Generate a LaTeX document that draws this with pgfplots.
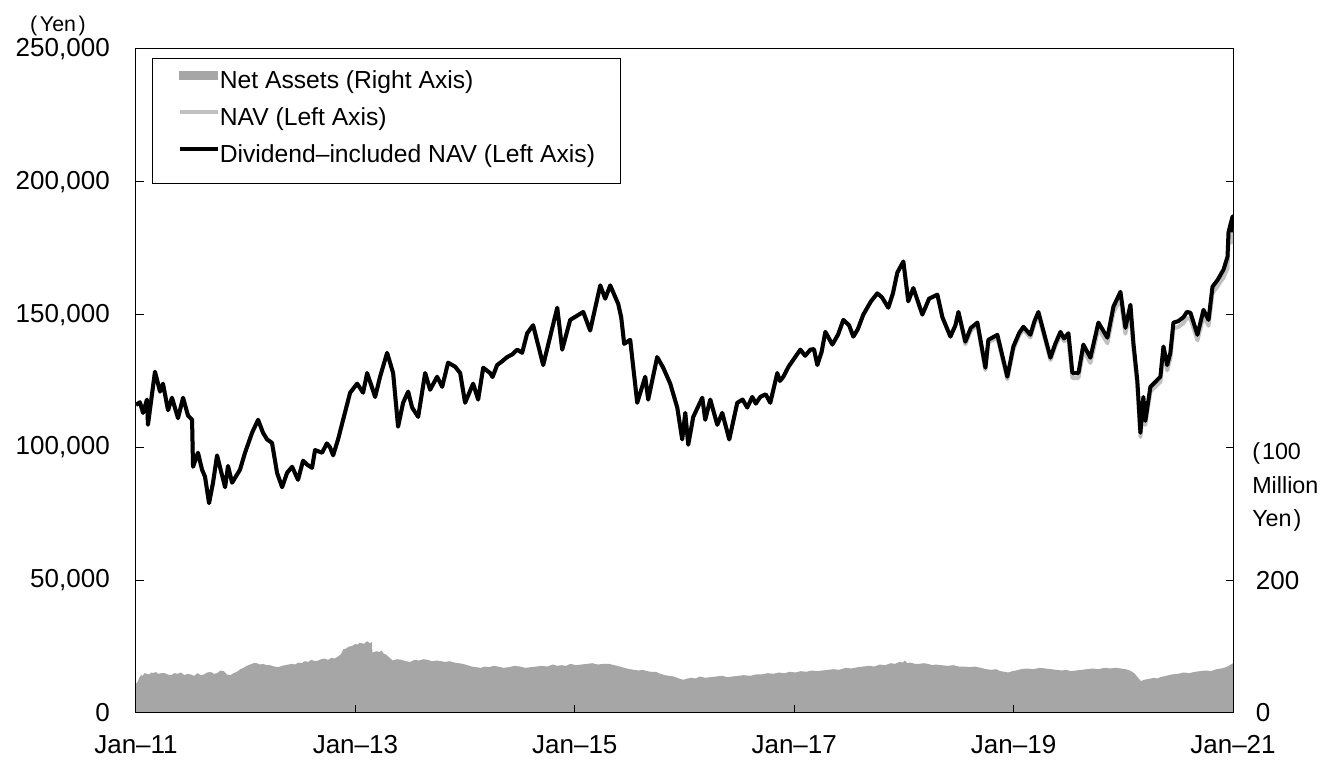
\documentclass[border=0pt]{standalone}
\usepackage{fontspec}
\setmainfont{Liberation Sans}
\usepackage{pgfplots}
\usepackage{pgfplotstable}
\pgfplotsset{compat=1.18}

\definecolor{assetgray}{HTML}{A6A6A6}
\definecolor{navgray}{HTML}{C0C0C0}

% NAV and dividend-included NAV (yen), time in decimal years
\pgfplotstableread{
t nav div
2011.000 116000 116000
2011.036 117000 117000
2011.064 113000 113000
2011.100 118000 118000
2011.109 108500 108500
2011.173 128500 128500
2011.219 121000 121000
2011.246 124000 124000
2011.292 114000 114000
2011.328 118700 118700
2011.383 111000 111000
2011.429 118700 118700
2011.474 112000 112000
2011.511 110400 110400
2011.520 92700 92700
2011.565 98000 98000
2011.602 91600 91600
2011.629 89000 89000
2011.666 79000 79000
2011.702 86700 86700
2011.739 97000 97000
2011.812 85000 85000
2011.839 93000 93000
2011.876 86700 86700
2011.948 91600 91600
2011.994 98000 98000
2012.058 105500 105500
2012.113 110400 110400
2012.158 105500 105500
2012.195 103000 103000
2012.240 101700 101700
2012.286 90400 90400
2012.332 85000 85000
2012.377 90400 90400
2012.423 92700 92700
2012.477 87800 87800
2012.523 95000 95000
2012.560 93500 93500
2012.605 92300 92300
2012.632 99000 99000
2012.696 98000 98000
2012.740 101500 101500
2012.769 100000 100000
2012.797 97000 97000
2012.842 103000 103000
2012.888 110400 110400
2012.952 120600 120600
2013.016 124000 124000
2013.070 120600 120600
2013.107 128000 128000
2013.180 119000 119000
2013.225 126600 126600
2013.289 135600 135600
2013.344 128000 128000
2013.389 107800 107800
2013.435 116800 116800
2013.481 121000 121000
2013.517 115000 115000
2013.572 111500 111500
2013.636 128000 128000
2013.681 121700 121700
2013.745 126600 126600
2013.791 122800 122800
2013.845 131900 131900
2013.909 130400 130400
2013.955 128000 128000
2014.000 116800 116800
2014.073 124000 124000
2014.119 118000 118000
2014.165 130000 130000
2014.228 128000 128000
2014.250 126500 126500
2014.292 131000 131000
2014.340 132500 132500
2014.383 134000 134000
2014.430 135000 135000
2014.475 136800 136800
2014.520 135600 135600
2014.566 143000 143000
2014.620 146000 146000
2014.712 131000 131000
2014.840 152600 152600
2014.885 136800 136800
2014.958 148000 148000
2015.077 151000 151000
2015.140 144000 144000
2015.232 161000 161000
2015.277 156000 156000
2015.323 161000 161000
2015.396 154000 154000
2015.423 149000 149000
2015.450 139000 139000
2015.505 140500 140500
2015.569 116800 116800
2015.642 126600 126600
2015.669 118000 118000
2015.751 134000 134000
2015.806 130000 130000
2015.870 124000 124000
2015.934 115000 115000
2015.979 103000 103000
2016.007 113000 113000
2016.034 101000 101000
2016.080 111500 111500
2016.162 118700 118700
2016.189 110400 110400
2016.235 118000 118000
2016.299 108500 108500
2016.344 113000 113000
2016.408 103000 103000
2016.481 116800 116800
2016.530 118000 118000
2016.572 115000 115000
2016.618 119000 119000
2016.650 116500 116500
2016.691 119000 119000
2016.740 120000 120000
2016.782 116800 116800
2016.846 128000 128000
2016.870 125000 125000
2016.901 126600 126600
2016.950 130500 130500
2016.992 133000 133000
2017.056 136800 136800
2017.100 134500 134500
2017.147 136800 136800
2017.180 137000 137000
2017.211 131000 131000
2017.250 136000 136000
2017.284 143500 143500
2017.348 138700 138700
2017.400 142500 142500
2017.448 148000 148000
2017.500 146000 146000
2017.539 141700 141700
2017.580 144500 144500
2017.630 150000 150000
2017.700 155000 155000
2017.758 158000 158000
2017.800 156500 156500
2017.858 152600 152600
2017.900 158000 158000
2017.940 165800 165800
2017.995 170000 170000
2018.040 155000 155000
2018.086 160000 160000
2018.168 150000 150000
2018.230 156000 156000
2018.305 157500 157500
2018.351 149000 149000
2018.424 141700 141700
2018.470 146000 146000
2018.497 151000 151000
2018.560 138800 139800
2018.610 144000 145000
2018.670 146000 147000
2018.743 129100 130000
2018.770 139500 140500
2018.852 141400 142400
2018.943 125700 126600
2018.998 137000 138000
2019.050 142000 143000
2019.089 144400 145400
2019.153 141400 142400
2019.190 146500 147500
2019.226 149900 151000
2019.336 132900 133800
2019.380 138000 139000
2019.427 142500 143500
2019.460 140000 141000
2019.500 140900 143000
2019.536 126100 128000
2019.591 126100 128000
2019.636 136600 138700
2019.700 131800 133800
2019.773 144800 147000
2019.855 139200 141300
2019.910 150700 153000
2019.974 156200 158600
2020.019 142800 145000
2020.065 151400 153700
2020.092 137300 139400
2020.128 123100 125000
2020.156 103900 105500
2020.183 117200 119000
2020.201 108400 110000
2020.247 121000 122800
2020.338 124700 126600
2020.366 135900 138000
2020.400 129000 131000
2020.429 133600 135600
2020.457 144800 147000
2020.500 145300 147500
2020.548 146800 149000
2020.580 148700 151000
2020.612 148400 150700
2020.676 140300 142400
2020.700 144300 146500
2020.731 149500 151800
2020.777 145800 148000
2020.813 158100 160500
2020.859 160600 163000
2020.880 162000 164500
2020.914 164000 167000
2020.950 167500 171800
2020.959 176500 181000
2020.996 182300 187000
2021.000 176500 181000
}\navtab

% Net assets (100 million yen)
\pgfplotstableread{
t na
2011.000 44
2011.015 47
2011.030 53
2011.045 57
2011.060 56
2011.080 60
2011.100 59
2011.120 58
2011.140 61
2011.160 60
2011.180 62
2011.200 59
2011.230 60
2011.260 60
2011.290 58
2011.320 57
2011.350 60
2011.380 59
2011.410 61
2011.440 57
2011.470 59
2011.500 58
2011.530 56
2011.560 60
2011.590 57
2011.620 58
2011.650 61
2011.680 62
2011.710 59
2011.740 60
2011.770 64
2011.800 63
2011.830 58
2011.860 57
2011.890 60
2011.920 62
2011.950 66
2011.980 68
2012.010 71
2012.040 73
2012.070 75
2012.100 75
2012.130 73
2012.160 74
2012.190 72
2012.220 72
2012.260 70
2012.300 69
2012.330 71
2012.360 72
2012.390 73
2012.420 74
2012.450 73
2012.480 76
2012.510 75
2012.540 78
2012.570 77
2012.600 80
2012.630 78
2012.660 79
2012.690 81
2012.720 82
2012.750 80
2012.780 83
2012.810 82
2012.840 85
2012.865 88
2012.890 96
2012.915 97
2012.940 100
2012.970 101
2013.000 104
2013.020 103
2013.040 106
2013.060 105
2013.080 104
2013.095 107
2013.110 108
2013.130 105
2013.150 107
2013.155 91
2013.190 93
2013.220 92
2013.240 94
2013.260 89
2013.280 88
2013.300 85
2013.320 82
2013.340 79
2013.380 81
2013.420 80
2013.460 78
2013.500 77
2013.540 80
2013.580 79
2013.620 81
2013.660 80
2013.700 78
2013.740 79
2013.780 78
2013.820 77
2013.860 78
2013.900 76
2013.940 75
2013.980 74
2014.020 72
2014.060 70
2014.100 69
2014.140 68
2014.180 70
2014.220 69
2014.260 71
2014.300 70
2014.350 68
2014.400 69
2014.450 71
2014.500 70
2014.550 68
2014.600 69
2014.650 70
2014.700 71
2014.750 70
2014.800 73
2014.840 71
2014.880 72
2014.920 71
2014.960 74
2015.010 72
2015.060 73
2015.110 74
2015.160 75
2015.210 73
2015.260 74
2015.310 74
2015.360 72
2015.410 70
2015.450 68
2015.500 66
2015.540 65
2015.580 64
2015.620 65
2015.660 63
2015.700 62
2015.740 62
2015.780 59
2015.820 57
2015.860 56
2015.900 55
2015.950 52
2015.990 50
2016.030 52
2016.060 53
2016.100 52
2016.140 55
2016.190 53
2016.240 54
2016.290 55
2016.340 56
2016.390 54
2016.440 55
2016.490 56
2016.540 57
2016.600 56
2016.650 58
2016.700 58
2016.760 60
2016.810 59
2016.860 61
2016.910 60
2016.960 62
2017.010 61
2017.060 63
2017.110 62
2017.160 64
2017.210 63
2017.260 64
2017.310 65
2017.360 66
2017.410 65
2017.470 68
2017.520 67
2017.580 69
2017.630 70
2017.680 71
2017.730 70
2017.780 73
2017.830 72
2017.880 75
2017.920 74
2017.960 77
2017.990 76
2018.010 79
2018.030 75
2018.060 76
2018.100 74
2018.140 74
2018.180 75
2018.220 74
2018.260 72
2018.290 73
2018.340 72
2018.400 71
2018.450 72
2018.500 70
2018.550 70
2018.600 69
2018.650 70
2018.700 68
2018.750 66
2018.800 65
2018.840 66
2018.880 63
2018.920 62
2018.950 61
2018.990 63
2019.020 64
2019.070 66
2019.120 67
2019.180 66
2019.240 68
2019.290 67
2019.340 66
2019.390 65
2019.440 64
2019.480 65
2019.520 63
2019.570 64
2019.620 65
2019.670 66
2019.720 67
2019.770 66
2019.830 68
2019.880 67
2019.930 68
2019.980 67
2020.020 66
2020.060 64
2020.100 60
2020.130 54
2020.160 48
2020.190 50
2020.220 51
2020.250 52
2020.280 53
2020.310 52
2020.340 54
2020.390 56
2020.440 58
2020.500 59
2020.550 61
2020.600 60
2020.650 62
2020.700 63
2020.750 64
2020.800 63
2020.850 66
2020.890 67
2020.920 68
2020.950 70
2020.970 72
2020.990 74
2021.000 75
}\assets

\begin{document}
\fontsize{19.5pt}{20pt}\selectfont
\begin{tikzpicture}
\path[use as bounding box] (-102pt,-35.25pt) rectangle (891.75pt,534.75pt);

% right axis: net assets as a filled area
\begin{axis}[
  scale only axis, width=822.75pt, height=498pt,
  xmin=2011, xmax=2021, ymin=0, ymax=1000,
  axis y line*=right, axis x line=none,
  axis line style={-, line width=0.75pt},
  ytick={0,200,400,600,800,1000}, yticklabels={0,200,,,,},
  ytick align=inside, major tick length=5.5pt,
  tick style={line width=0.75pt, black},
  yticklabel style={anchor=west, inner sep=0pt, xshift=17pt,
    font=\fontsize{19.5pt}{20pt}\selectfont},
]
\addplot[fill=assetgray, draw=none] table[x=t, y=na] {\assets} \closedcycle;
\end{axis}

% left axis: NAV lines
\begin{axis}[
  scale only axis, width=822.75pt, height=498pt,
  xmin=2011, xmax=2021, ymin=0, ymax=250000,
  scaled y ticks=false,
  axis line style={line width=0.75pt},
  tick pos=left, tick align=inside, major tick length=6pt,
  tick style={line width=0.75pt, black},
  xtick={2011,2013,2015,2017,2019,2021},
  xticklabels={Jan\textendash11,Jan\textendash13,Jan\textendash15,Jan\textendash17,Jan\textendash19,Jan\textendash21},
  ytick={0,50000,100000,150000,200000,250000},
  yticklabels={0,{50,000},{100,000},{150,000},{200,000},{250,000}},
  xticklabel style={anchor=north, inner sep=0pt, yshift=-16.5pt,
    font=\fontsize{19.5pt}{20pt}\selectfont},
  yticklabel style={anchor=east, inner sep=0pt, xshift=-19.5pt,
    font=\fontsize{19.5pt}{20pt}\selectfont},
  legend style={at={(0.0146,0.9864)}, anchor=north west,
    draw=black, line width=0.75pt, inner xsep=19pt, inner ysep=8.85pt,
    row sep=7.2pt, font=\fontsize{18.5pt}{18.5pt}\selectfont,
    nodes={inner sep=0pt, text height=13.5pt, text depth=7.05pt}},
  legend cell align=left,
]
\addlegendimage{legend image code/.code={\fill[assetgray] (0pt,3.6pt) rectangle (28.5pt,9.6pt);}}
\addlegendentry{Net Assets (Right Axis)}
\addplot[navgray, line width=3pt, line join=round,
  legend image code/.code={\draw[navgray, line width=3pt] (0pt,6.6pt) -- (28.5pt,6.6pt);}]
  table[x=t, y=nav] {\navtab};
\addlegendentry{NAV (Left Axis)}
\addplot[black, line width=3pt, line join=round,
  legend image code/.code={\draw[black, line width=3pt] (0pt,6.6pt) -- (28.5pt,6.6pt);}]
  table[x=t, y=div] {\navtab};
\addlegendentry{Dividend\textendash included NAV (Left Axis)}
\end{axis}

% unit labels of the two value axes
\node[anchor=center, inner sep=0pt, font=\fontsize{16pt}{16pt}\selectfont]
  at (-58.5pt,515.5pt) {(\hspace{2pt}Yen\hspace{2pt})};
\node[anchor=west, align=left, inner sep=0pt, font=\fontsize{17.5pt}{25pt}\selectfont]
  at (837pt,169.5pt) {(\hspace{1.5pt}100\\Million\\Yen\hspace{1.5pt})};
\end{tikzpicture}
\end{document}
